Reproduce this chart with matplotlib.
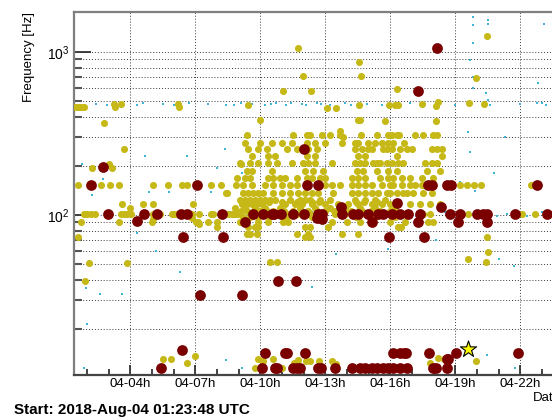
import matplotlib
matplotlib.use("Agg")
import matplotlib.pyplot as plt
from matplotlib.ticker import FixedLocator, NullFormatter

plt.rcParams['font.family'] = ['Liberation Sans', 'DejaVu Sans']
plt.rcParams['mathtext.fontset'] = 'custom'
plt.rcParams['mathtext.rm'] = 'Liberation Sans'
plt.rcParams['mathtext.it'] = 'Liberation Sans'

# ---------------- data (time in hours of 2018-Aug-04 UTC, frequency in Hz) ----------------
start_hour = 1.3967          # 01:23:48
span_hours = 24.0

xtick_hours = [4, 7, 10, 13, 16, 19, 22]
xtick_labels = ['04-04h', '04-07h', '04-10h', '04-13h', '04-16h', '04-19h', '04-22h']
xminor_hours = [2, 3, 5, 6, 8, 9, 11, 12, 14, 15, 17, 18, 20, 21, 23, 24, 25]
ymajor = [100, 1000]
ymajor_labels = [r'$10^{2}$', r'$10^{3}$']
yminor = [20, 30, 40, 50, 60, 70, 80, 90, 200, 300, 400, 500, 600, 700, 800, 900]

# low-SNR triggers (cyan)
cyan_t = [19.82, 19.82, 20.50, 20.50, 23.09, 19.82, 19.66, 19.82, 19.82, 20.41,
          2.4, 2.9, 3.3, 4.3, 4.6, 5.5, 6.0, 6.7, 7.6, 8.4, 8.8, 9.1, 9.6, 10.2, 10.5, 10.7,
          11.2, 11.4, 11.9, 12.1, 12.6, 12.8, 13.2, 13.9, 14.2, 14.9, 15.6, 16.2, 16.9, 17.6,
          18.3, 19.0, 19.7, 20.6, 22.0, 23.2,
          8.6, 9.5, 10.3, 11.4, 12.4, 13.6, 14.1, 15.0, 16.0, 17.2, 18.5, 19.4, 20.1, 20.9,
          21.4, 22.3, 23.0,
          4.67, 6.61, 4.86, 5.78, 7.72, 2.23, 2.74, 8.0, 9.15, 8.37, 1.77, 1.86, 2.0, 2.6,
          3.61, 1.95, 8.41, 9.15, 20.46, 21.75, 19.66, 19.58, 20.5, 22.76, 23.0, 22.8, 21.0,
          21.7, 19.2, 19.9, 21.3, 20.8, 4.3, 5.2, 6.3, 3.0, 13.5, 15.9, 12.4, 18.1]
cyan_f = [1640, 1470, 1570, 1490, 1490, 1140, 890, 705, 600, 560,
          480, 470, 485, 475, 490, 478, 472, 486, 480, 470, 476, 488, 482, 474, 480, 490,
          472, 484, 478, 470, 486, 480, 474, 488, 476, 482, 470, 480, 486, 478,
          490, 472, 484, 476, 480, 474,
          104, 99, 103, 98, 105, 100, 104, 98, 103, 99, 104, 100, 103, 98,
          102, 99, 104,
          230, 230, 138, 138, 138, 132, 166, 194, 182, 254, 205, 11.5, 21.4, 32.6,
          32.6, 35.7, 12.9, 11.5, 13.8, 11.5, 242, 325, 506, 490, 490, 650, 53.7,
          48.7, 160, 140, 300, 180, 78, 60, 45, 150, 58, 62, 36, 70]

# medium-SNR triggers (yellow)
yellow_t = [20.46, 11.73, 14.55, 19.95, 11.97, 14.64, 16.30, 11.04, 12.33,
            1.44, 1.54, 1.63, 1.72, 1.86, 3.24, 3.29, 3.57, 6.20, 6.24, 9.43, 13.07, 13.49,
            14.55, 15.94, 16.21, 16.35, 17.46, 18.10, 18.19, 19.62, 20.32,
            2.78, 9.98, 14.50, 14.59, 15.75, 18.10, 13.67, 13.81,
            9.38, 11.50, 12.15, 12.29, 12.84, 13.21, 13.67, 14.64, 15.38, 15.89, 16.07, 16.30,
            16.39, 17.13, 17.50, 17.96, 18.15,
            9.29, 9.98, 10.53, 11.00, 11.46, 12.15, 12.52, 12.98, 13.77, 14.36, 14.50, 14.97,
            15.29, 15.61, 15.89, 16.12, 16.63,
            3.70, 9.43, 9.89, 10.30, 11.23, 11.69, 12.20, 12.61, 14.36, 14.69, 14.97, 15.15,
            15.66, 15.84, 16.07, 16.44, 16.77, 17.00, 17.92, 18.15, 18.38,
            9.61, 10.35, 10.67, 12.15, 12.52, 14.50, 14.83, 16.30, 18.38,
            3.01, 9.06, 9.10, 9.52, 9.89, 10.35, 10.77, 11.46, 11.97, 12.20, 12.52, 13.30,
            14.36, 14.59, 14.83, 15.20, 15.38, 15.52, 15.84, 16.07, 16.35, 16.58, 17.60, 17.92,
            18.15,
            2.23, 3.15,
            9.38, 9.61, 10.53, 12.06, 12.43, 12.89, 14.45, 14.74, 15.38, 15.89, 16.30, 17.69,
            18.29,
            8.92, 9.29, 9.52, 10.35, 10.58, 10.91, 11.13, 11.69, 12.15, 12.38, 12.75, 12.98,
            14.23, 14.50, 14.83, 15.52, 15.89, 16.12, 16.53, 16.90, 17.46, 17.96,
            1.58, 2.64, 3.06, 3.47, 5.04, 5.74, 6.38, 6.61, 7.72, 8.18, 8.87, 9.20, 9.61,
            10.21, 10.58, 11.00, 11.37, 11.69, 12.98, 13.30, 13.67, 14.23, 14.50, 14.83,
            15.15, 15.61, 15.98, 16.12, 16.53, 16.90, 17.13, 17.46, 19.21, 19.53, 19.86,
            20.18, 22.49,
            8.41, 8.46, 9.20, 9.43, 9.66, 9.89, 10.12, 10.58, 11.00, 11.37, 11.73, 12.06,
            12.38, 12.66, 13.35, 14.23, 14.50, 14.83, 15.15, 15.42, 15.84, 15.98, 16.30,
            16.58, 16.77, 17.04, 17.50, 17.92,
            9.06, 9.29, 9.52, 9.75, 9.98, 10.21, 10.44, 10.67, 11.37, 11.83, 12.06, 12.29,
            12.75, 13.21, 14.36, 14.83, 15.29, 15.75,
            9.2, 9.5, 9.8, 10.1, 10.4, 11.0, 11.7, 12.4, 12.7, 14.4, 14.8, 15.4,
            3.61, 4.58, 5.04, 6.89, 9.15, 9.38, 9.61, 9.84, 10.07, 11.13, 11.60, 11.92,
            12.38, 12.98, 13.58, 14.04, 14.50, 15.15, 15.61, 15.98, 16.90, 17.36, 17.82, 18.29,
            3.98, 8.83, 9.29, 9.75, 10.21, 10.91, 11.83, 12.52, 13.21, 13.90, 14.59, 15.29,
            16.21,
            9.1, 9.4, 9.7, 10.0, 10.3, 10.6, 11.1, 11.5, 12.2, 12.6, 13.0, 13.4, 14.2, 14.7,
            15.1, 15.5, 16.0,
            1.86, 2.00, 2.18, 2.37, 3.57, 3.70, 3.84, 4.03, 5.04, 5.37, 5.92, 6.01, 6.15,
            6.84, 7.17, 7.72, 7.81, 8.50, 8.69, 8.74, 8.83, 8.92, 9.06, 9.98, 10.81, 11.27,
            11.69, 12.29, 13.44, 13.90, 14.83, 15.75, 17.50, 17.82, 19.58, 22.07, 22.67,
            9.2, 9.5, 9.9, 10.4, 11.2, 12.4, 12.9, 14.4, 15.3, 16.2,
            5.04, 6.84, 7.17,
            1.72, 3.47, 5.00, 7.03, 7.12, 7.58, 8.00, 9.06, 9.89, 10.35, 11.04, 11.27, 13.30,
            14.00, 14.59, 15.98, 16.67, 17.73, 17.96, 19.07,
            8.00, 9.43, 9.75, 9.89, 12.06, 12.29, 13.12, 16.35, 16.49,
            9.38, 9.52, 9.84, 11.69, 12.20, 13.77, 14.50,
            1.58, 12.06, 12.29, 20.46,
            20.50, 19.58, 20.41, 10.44, 10.77, 2.09, 3.84, 1.91,
            5.50, 5.87, 6.98, 6.61, 9.89, 10.12, 10.58, 11.55, 11.73, 12.10, 12.29, 12.70,
            13.30, 9.75, 11.00, 17.82, 18.19, 18.47, 19.95, 13.49]
yellow_f = [1254, 1058, 868, 695, 713, 713, 593, 576, 576,
            460, 460, 460, 460, 460, 479, 460, 479, 479, 460, 473, 453, 453,
            473, 473, 473, 473, 479, 467, 494, 487, 479,
            367, 383, 383, 383, 377, 377, 328, 300,
            309, 309, 309, 309, 309, 309, 309, 309, 309, 309, 309, 309,
            309, 309, 309, 309, 309,
            277, 277, 277, 277, 277, 277, 277, 277, 277, 277, 277, 277,
            277, 277, 277, 277, 277,
            254, 254, 254, 254, 254, 254, 254, 254, 254, 254, 254, 254,
            254, 254, 254, 254, 254, 254, 254, 254, 254,
            230, 230, 230, 230, 230, 230, 230, 230, 230,
            205, 208, 205, 208, 208, 208, 208, 208, 208, 208, 208, 208,
            208, 208, 208, 208, 208, 208, 208, 208, 208, 208, 208, 208,
            208,
            194, 194,
            186, 186, 186, 186, 186, 186, 186, 186, 186, 186, 186, 186,
            186,
            169, 169, 169, 169, 169, 169, 169, 169, 169, 169, 169, 169,
            169, 169, 169, 169, 169, 169, 169, 169, 169, 169,
            153, 153, 153, 153, 153, 153, 153, 153, 153, 153, 153, 153, 153,
            153, 153, 153, 153, 153, 153, 153, 153, 153, 153, 153,
            153, 153, 153, 153, 153, 153, 153, 153, 153, 153, 153,
            153, 153,
            137, 137, 137, 137, 137, 137, 137, 137, 137, 137, 137, 137,
            137, 137, 137, 137, 137, 137, 137, 137, 137, 137, 137,
            137, 137, 137, 137, 137,
            124, 124, 124, 124, 124, 124, 124, 124, 124, 124, 124, 124,
            124, 124, 124, 124, 124, 124,
            120, 120, 120, 120, 120, 120, 120, 120, 120, 120, 120, 120,
            117, 117, 117, 117, 117, 117, 117, 117, 117, 117, 117, 117,
            117, 117, 117, 117, 117, 117, 117, 117, 117, 117, 117, 117,
            110, 110, 110, 110, 110, 110, 110, 110, 110, 110, 110, 110,
            110,
            106, 106, 106, 106, 106, 106, 106, 106, 106, 106, 106, 106, 106, 106,
            106, 106, 106,
            101, 101, 101, 101, 101, 101, 101, 101, 101, 101, 101, 101, 101,
            101, 101, 101, 101, 101, 101, 101, 101, 101, 101, 101, 101, 101,
            101, 101, 101, 101, 101, 101, 101, 101, 101, 101, 101,
            97, 97, 97, 97, 97, 97, 97, 97, 97, 97,
            94, 96, 88,
            90.6, 90.6, 90.6, 90.6, 90.6, 90.6, 90.6, 90.6, 90.6, 90.6, 90.6, 90.6, 90.6,
            90.6, 90.6, 90.6, 90.6, 90.6, 90.6, 90.6,
            84.4, 84.4, 84.4, 84.4, 84.4, 84.4, 84.4, 84.4, 84.4,
            76.5, 76.5, 76.5, 76.5, 76.5, 76.5, 76.5,
            73.3, 73.3, 73.3, 73.3,
            59.3, 53.7, 51.5, 51.5, 51.5, 50.7, 50.7, 39.4,
            13.1, 13.1, 13.6, 12.4, 13.1, 12.7, 13.1, 12.4, 12.9, 12.7, 12.7, 12.7,
            12.7, 11.5, 11.5, 12.4, 13.2, 13.1, 12.7, 12.1]

# high-SNR triggers (dark red)
red_t = [18.15, 17.27, 2.74, 2.18, 7.07, 12.01, 12.15, 12.66, 17.73, 17.92, 18.61, 18.79, 22.76,
         2.97, 4.63, 5.23, 6.33, 6.61, 8.23, 9.66, 10.12, 10.53, 10.63, 10.95, 11.50, 12.01,
         12.66, 12.84, 13.77, 14.27, 14.50, 14.97, 15.42, 15.66, 16.07, 16.44, 16.81, 17.36,
         18.75, 19.21, 19.99, 20.28, 20.46, 21.75, 23.22,
         13.72, 16.30, 18.33, 4.31, 9.29, 12.84, 12.61, 15.15, 17.27, 19.12, 20.46, 6.43,
         8.27, 15.94, 17.55, 7.21, 9.15, 10.81, 11.64, 6.38, 5.41,
         10.21, 11.13, 11.23, 12.06, 16.12, 16.44, 16.63, 16.72, 17.78, 19.02, 21.89,
         18.61, 18.66,
         10.07, 10.67, 10.77, 11.50, 11.69, 11.83, 12.66, 12.80, 13.44, 14.23, 14.59, 14.83,
         15.15, 15.38, 15.66, 15.89, 16.12, 16.44, 16.77, 17.96, 18.10, 18.61]
red_f = [1058, 576, 197, 153, 153, 254, 153, 153, 153, 153, 153, 153, 153,
         101, 101, 101, 101, 101, 101, 101, 101, 101, 101, 101, 101, 101,
         101, 101, 101, 101, 101, 101, 101, 101, 101, 101, 101, 101,
         101, 101, 101, 101, 101, 101, 101,
         112, 118, 112, 92, 90.6, 94, 96, 90.6, 90.6, 90.6, 90.6, 73.3,
         73.3, 73.3, 73.3, 32.3, 32.3, 39.4, 39.4, 14.9, 11.5,
         14.2, 14.2, 14.2, 14.2, 14.2, 14.2, 14.2, 14.2, 14.2, 14.2, 14.2,
         13.1, 13.1,
         11.5, 11.5, 11.5, 11.5, 11.5, 11.5, 11.5, 11.5, 11.5, 11.5, 11.5, 11.5,
         11.5, 11.5, 11.5, 11.5, 11.5, 11.5, 11.5, 11.5, 11.5, 11.5]

# loudest event (star)
star_t = [19.58]
star_f = [15.1]

# ---------------- figure ----------------
W, H = 552, 419
fig = plt.figure(figsize=(W / 100, H / 100), dpi=100)
fig.patch.set_facecolor('white')

ax_l, ax_r, ax_b, ax_t = 74, 594, 375, 12
ax = fig.add_axes([ax_l / W, (H - ax_b) / H, (ax_r - ax_l) / W, (ax_b - ax_t) / H])
ax.set_yscale('log')
ax.set_xlim(start_hour, start_hour + span_hours)
ax.set_ylim(10.43, 1760)

grid_kw = dict(color='#3a3a3a', lw=0.7, ls=(0, (1, 2)), zorder=1)
for xv in xtick_hours:
    ax.axvline(xv, **grid_kw)
for yv in ymajor + yminor:
    ax.axhline(yv, **grid_kw)

ax.scatter(cyan_t, cyan_f, s=1.5, c='#3fb5d6', marker='s', linewidths=0, zorder=2)
ax.scatter(yellow_t, yellow_f, s=26, c='#c6b816', linewidths=0, zorder=3)
ax.scatter(red_t, red_f, s=60, c='#7a0000', linewidths=0, zorder=4)
ax.scatter(star_t, star_f, s=150, marker='*', c='#ffff00', edgecolors='black',
           linewidths=0.8, zorder=5)

ax.xaxis.set_major_locator(FixedLocator(xtick_hours))
ax.set_xticklabels(xtick_labels)
ax.xaxis.set_minor_locator(FixedLocator(xminor_hours))
ax.yaxis.set_major_locator(FixedLocator(ymajor))
ax.set_yticklabels(ymajor_labels)
ax.yaxis.set_minor_locator(FixedLocator(yminor))
ax.yaxis.set_minor_formatter(NullFormatter())

ax.tick_params(axis='x', which='major', direction='in', length=7.5, width=1.2,
               color='#222222', labelsize=9.5, pad=2)
ax.tick_params(axis='x', which='minor', direction='in', length=4, width=1.2, color='#222222')
ax.tick_params(axis='y', which='major', direction='in', length=12.5, width=1.2,
               color='#222222', labelsize=10, pad=3)
ax.tick_params(axis='y', which='minor', direction='in', length=6, width=1.5, color='#555555')
ax.tick_params(top=False, right=False)

for side in ['left', 'top']:
    ax.spines[side].set_color('#7f7f7f')
    ax.spines[side].set_linewidth(1.6)
ax.spines['bottom'].set_color('#444444')
ax.spines['bottom'].set_linewidth(1.6)
ax.spines['right'].set_visible(False)

fig.text(29 / W, (H - 12) / H, 'Frequency [Hz]', rotation=90, ha='center', va='top',
         fontsize=9.5)
# x-axis title sits at the right end of the (cropped) axis, as in the reference
fig.text(533 / W, (H - 398) / H, 'Date', ha='left', va='center', fontsize=9.5)
fig.text(14 / W, (H - 410) / H, 'Start: 2018-Aug-04 01:23:48 UTC', ha='left', va='center',
         fontsize=11, fontweight='bold')

fig.savefig('out.png', dpi=100)
